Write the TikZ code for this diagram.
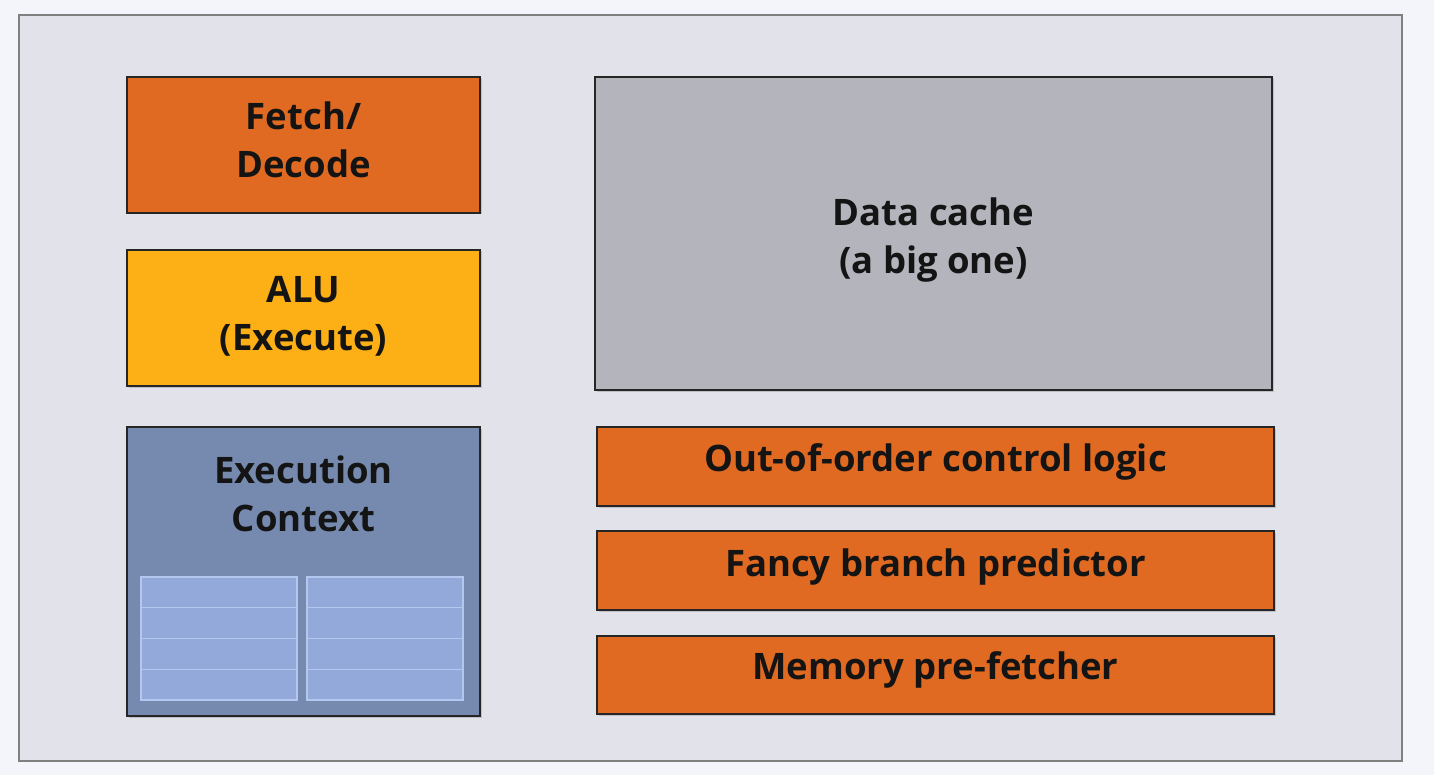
\documentclass[tikz,border=0pt]{standalone}
\usepackage{fontspec}
\setmainfont{Open Sans}
\usetikzlibrary{shadows}
\definecolor{bgc}{HTML}{F4F4FB}
\definecolor{outerc}{HTML}{E1E2EA}
\definecolor{orangec}{HTML}{E06A22}
\definecolor{yellowc}{HTML}{FDB016}
\definecolor{ctxc}{HTML}{7689AE}
\definecolor{cachec}{HTML}{B3B4BC}
\definecolor{tabc}{HTML}{93A9DA}
\definecolor{tabl}{HTML}{B4C7EF}
\definecolor{txtc}{HTML}{141414}
\tikzset{
  blk/.style={draw=black!85, line width=1.6pt, drop shadow={shadow xshift=1.5pt, shadow yshift=-1.5pt, opacity=0.35}},
  lbl/.style={font=\fontsize{36.5}{48}\selectfont\bfseries, text=txtc, align=center},
}
\begin{document}
\begin{tikzpicture}[x=1pt,y=-1pt]
\fill[bgc] (0,0) rectangle (1434,775);
\useasboundingbox (0,0) rectangle (1434,775);
\draw[fill=outerc, draw=black!50, line width=1.5pt] (19,15) rectangle (1402,761);
% left column
\draw[blk, fill=orangec] (127,77) rectangle (480,213);
\node[lbl] (fetch) at (303.5,140) {Fetch/\\Decode};
\draw[blk, fill=yellowc] (127,250) rectangle (480,386);
\node[lbl] (alu) at (303.5,316) {ALU\\(Execute)};
\draw[blk, fill=ctxc] (127,427) rectangle (480,716);
\node[lbl] (ctx) at (303.5,494) {Execution\\Context};
% register tables
\foreach \x in {141,307}{
  \draw[tabl, fill=tabc, line width=1.2pt] (\x,577) rectangle (\x+156,700);
  \foreach \k in {1,2,3}{
    \draw[tabl, line width=1.2pt] (\x,577+\k*30.75) -- (\x+156,577+\k*30.75);
  }
}
% right column
\draw[blk, fill=cachec] (595,77) rectangle (1272,390);
\node[lbl] (cache) at (933.5,240) {Data cache\\(a big one)};
\draw[blk, fill=orangec] (597,427) rectangle (1274,506);
\node[lbl] (ooo) at (935.5,462) {Out-of-order control logic};
\draw[blk, fill=orangec] (597,531) rectangle (1274,610);
\node[lbl] (bp) at (935.5,567) {Fancy branch predictor};
\draw[blk, fill=orangec] (597,636) rectangle (1274,714);
\node[lbl] (pf) at (935.5,670) {Memory pre-fetcher};
\end{tikzpicture}
\end{document}
